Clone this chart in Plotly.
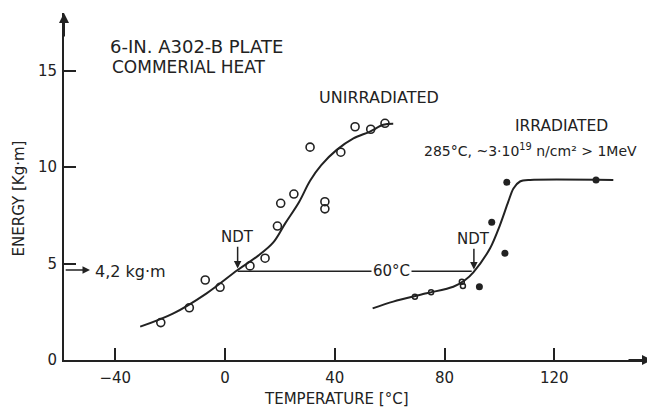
import plotly.graph_objects as go

# ---- data ----
unirr_T = [-23.4, -13.0, -7.2, -1.8, 9.1, 14.6, 19.1, 20.3, 25.1, 31.0, 36.4, 36.4, 42.2, 47.4, 53.1, 58.3]
unirr_E = [1.94, 2.71, 4.15, 3.77, 4.88, 5.28, 6.95, 8.13, 8.61, 11.04, 8.21, 7.84, 10.78, 12.1, 11.97, 12.28]

unirr_curve_T = [-30.9, -18.8, -6.7, 4.6, 12.0, 17.6, 22.0, 27.0, 31.0, 35.0, 40.7, 46.8, 52.8, 57.7, 61.3]
unirr_curve_E = [1.73, 2.42, 3.46, 4.67, 5.4, 6.1, 7.1, 8.2, 9.3, 10.1, 10.9, 11.5, 11.85, 12.2, 12.25]

irr_open_T = [69.2, 75.1, 86.3, 86.7]
irr_open_E = [3.28, 3.51, 4.06, 3.84]

irr_filled_T = [92.7, 102.0, 97.2, 102.7, 135.2]
irr_filled_E = [3.8, 5.54, 7.15, 9.22, 9.34]

irr_curve_T = [53.8, 61.3, 73.5, 83.2, 87.5, 90.5, 96.6, 100.2, 103.2, 105.1, 107.5, 111.2, 141.5]
irr_curve_E = [2.68, 3.03, 3.46, 3.8, 4.15, 4.55, 5.8, 7.0, 8.2, 8.9, 9.26, 9.34, 9.34]

ndt_unirr_T = 4.6
ndt_irr_T = 89.9
ndt_E = 4.6
shift_label = "60°C"

x_ticks = [-40, 0, 40, 80, 120]
x_tick_labels = ["−40", "0", "40", "80", "120"]
y_ticks = [0, 5, 10, 15]

INK = "#222222"
FONT = "DejaVu Sans"

fig = go.Figure()

# NDT shift line
fig.add_trace(go.Scatter(x=[ndt_unirr_T, ndt_irr_T], y=[ndt_E, ndt_E], mode="lines",
                         line=dict(color=INK, width=1.5), hoverinfo="skip"))

# fitted curves
fig.add_trace(go.Scatter(x=unirr_curve_T, y=unirr_curve_E, mode="lines",
                         line=dict(color=INK, width=2, shape="spline", smoothing=1.0), hoverinfo="skip"))
fig.add_trace(go.Scatter(x=irr_curve_T, y=irr_curve_E, mode="lines",
                         line=dict(color=INK, width=2, shape="spline", smoothing=0.8), hoverinfo="skip"))

# data points
fig.add_trace(go.Scatter(x=unirr_T, y=unirr_E, mode="markers",
                         marker=dict(symbol="circle-open", size=8, color=INK, line=dict(width=1.6))))
fig.add_trace(go.Scatter(x=irr_open_T, y=irr_open_E, mode="markers",
                         marker=dict(symbol="circle-open", size=5, color=INK, line=dict(width=1.5))))
fig.add_trace(go.Scatter(x=irr_filled_T, y=irr_filled_E, mode="markers",
                         marker=dict(symbol="circle", size=7, color=INK)))

ann = []
def txt(x, y, s, size=14, xanchor="center", ref="x", **kw):
    ann.append(dict(x=x, y=y, xref=("x" if ref == "x" else "paper"), yref=("y" if ref == "x" else "paper"),
                    text=s, showarrow=False, xanchor=xanchor, yanchor="middle",
                    font=dict(family=FONT, size=size, color=INK), **kw))

txt(-42.6, 16.24, "6-IN. A302-B PLATE", size=18, xanchor="left")
txt(-41.9, 15.2, "COMMERIAL HEAT", size=17, xanchor="left")
txt(56.1, 13.6, "UNIRRADIATED", size=16)
txt(122.6, 12.14, "IRRADIATED", size=15.5)
txt(71.8, 10.9, "285°C, ~3·10<sup>19</sup> n/cm² > 1MeV", size=14, xanchor="left")
txt(4.4, 6.38, "NDT", size=15)
txt(90.7, 6.28, "NDT", size=15)
txt(-48.1, 4.58, "4,2 kg·m", size=16, xanchor="left")
txt(60.5, 4.6, shift_label, size=15, bgcolor="white")
txt(0.464, -0.112, "TEMPERATURE [°C]", size=15, ref="paper")
txt(-0.0774, 0.467, "ENERGY [Kg·m]", size=15, ref="paper", textangle=-90)

# arrows
def arrow(x0, y0, x1, y1, width=1.5, head=2):
    ann.append(dict(x=x1, y=y1, ax=x0, ay=y0, xref="x", yref="y", axref="x", ayref="y",
                    text="", showarrow=True, arrowhead=head, arrowsize=1, arrowwidth=width,
                    arrowcolor=INK))

arrow(4.6, 5.95, 4.6, 4.75)
arrow(90.7, 5.85, 90.7, 4.7)
arrow(-58.6, 4.67, -49.2, 4.67)

# axis arrowheads
ann.append(dict(x=0, y=1, xref="paper", yref="paper", ax=0, ay=25, text="", showarrow=True,
                arrowhead=2, arrowwidth=2, arrowcolor=INK))
ann.append(dict(x=1, y=0, xref="paper", yref="paper", ax=-25, ay=0, text="", showarrow=True,
                arrowhead=2, arrowwidth=2, arrowcolor=INK))

# page body adds an 8px offset, so the figure is drawn 8px smaller and margins shifted
fig.update_layout(
    width=647, height=403,
    margin=dict(l=56, r=3, t=5, b=51, autoexpand=False),
    paper_bgcolor="white", plot_bgcolor="white",
    showlegend=False,
    annotations=ann,
    font=dict(family=FONT, color=INK),
    xaxis=dict(range=[-58.67, 155.6], tickvals=x_ticks, ticktext=x_tick_labels,
               ticks="inside", ticklen=12, tickwidth=1.5, tickcolor=INK, automargin=False,
               showline=True, linecolor=INK, linewidth=2, showgrid=False, zeroline=False,
               tickfont=dict(size=15, color=INK, family=FONT), ticklabelstandoff=3),
    yaxis=dict(range=[0, 18.0], tickvals=y_ticks, automargin=False,
               ticks="inside", ticklen=12, tickwidth=1.5, tickcolor=INK,
               showline=True, linecolor=INK, linewidth=2, showgrid=False, zeroline=False,
               tickfont=dict(size=15, color=INK, family=FONT), ticklabelstandoff=2),
)

fig.write_html("out.html")
